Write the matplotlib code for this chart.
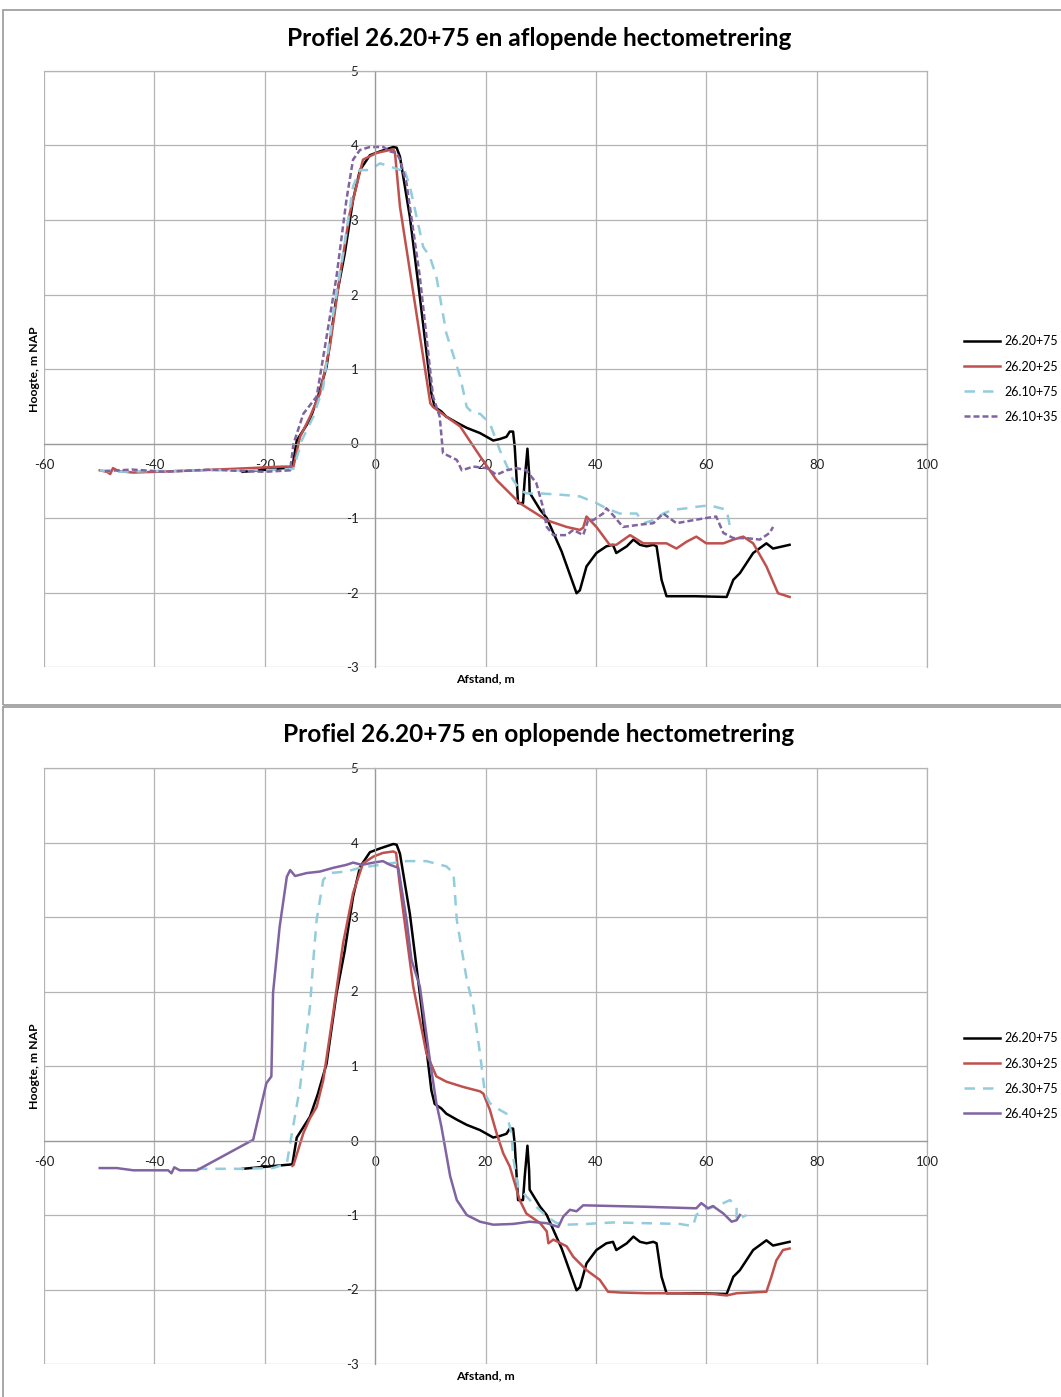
import matplotlib
matplotlib.use('Agg')
import matplotlib.pyplot as plt
from matplotlib.patches import Rectangle

plt.rcParams['font.family'] = ['Lato', 'DejaVu Sans']

# ---------------- data ----------------
xticks = [-60, -40, -20, 0, 20, 40, 60, 80, 100]
yticks = [-3, -2, -1, 0, 1, 2, 3, 4, 5]

title_top = 'Profiel 26.20+75 en aflopende hectometrering'
title_bot = 'Profiel 26.20+75 en oplopende hectometrering'
xlabel = 'Afstand, m'
ylabel = 'Hoogte, m NAP'

# 26.20+75 (both panels)
bk_x = [-24, -15, -14.2, -11.8, -10.4, -8.8, -7.0, -5.5, -4.0, -2.75, -0.94, 0.87, 3.3, 3.9, 4.5, 6.3, 8.1,
        10.2, 10.8, 12.0, 12.9, 14.8, 16.6, 19.0, 21.4, 22.6, 23.8, 24.4, 25.0, 25.3, 25.9, 26.8, 27.1, 27.6,
        27.9, 28.0, 29.9, 31.1, 32.3, 33.8, 36.5, 37.1, 38.3, 40.1, 41.9, 43.1, 43.7, 45.6, 46.8, 48.0, 49.2,
        50.4, 51.0, 51.9, 52.8, 58.0, 63.7, 64.9, 66.1, 68.5, 70.9, 72.1, 75.1]
bk_y = [-0.38, -0.32, 0.04, 0.32, 0.62, 1.03, 1.97, 2.55, 3.27, 3.67, 3.87, 3.92, 3.98, 3.97, 3.85, 3.04, 1.97,
        0.67, 0.49, 0.43, 0.36, 0.28, 0.21, 0.14, 0.04, 0.06, 0.09, 0.16, 0.16, -0.05, -0.80, -0.80, -0.49, -0.07,
        -0.40, -0.66, -0.89, -1.00, -1.20, -1.45, -2.01, -1.97, -1.65, -1.47, -1.38, -1.36, -1.47, -1.38, -1.29,
        -1.36, -1.38, -1.36, -1.38, -1.83, -2.05, -2.05, -2.06, -1.83, -1.74, -1.47, -1.34, -1.41, -1.36]

# 26.20+25
rd_x = [-49.9, -48.6, -48.0, -47.5, -46.5, -43.9, -31.7, -16.7, -14.8, -13.6, -11.8, -10.0, -8.2, -6.4, -4.6,
        -2.2, 0.27, 3.3, 3.6, 4.5, 10.0, 10.5, 12.9, 15.4, 19.0, 22.0, 26.2, 31.1, 34.7, 37.1, 37.7, 38.3, 40.1,
        42.5, 43.7, 46.2, 48.6, 51.0, 52.8, 54.6, 56.4, 58.2, 60.0, 63.1, 64.9, 66.7, 68.5, 70.9, 73.0, 75.1]
rd_y = [-0.36, -0.38, -0.41, -0.33, -0.37, -0.39, -0.36, -0.31, -0.31, 0.09, 0.36, 0.67, 1.30, 2.24, 3.09,
        3.81, 3.90, 3.95, 3.90, 3.18, 0.54, 0.49, 0.36, 0.23, -0.17, -0.49, -0.80, -1.03, -1.12, -1.16, -1.13,
        -0.98, -1.12, -1.36, -1.36, -1.23, -1.34, -1.34, -1.34, -1.41, -1.32, -1.25, -1.34, -1.34, -1.29, -1.25,
        -1.34, -1.65, -2.01, -2.06]

# 26.10+75
cy_x = [-49.9, -47, -40, -30, -20, -14.8, -13.3, -11.2, -9.4, -7.6, -5.8, -4.0, -2.8, -0.96, 0.87, 2.7, 4.5,
        5.1, 6.3, 8.7, 9.9, 11.1, 12.9, 15.4, 16.6, 17.8, 19.0, 20.8, 22.6, 25.0, 26.2, 27.4, 29.9, 34.1, 37.1,
        40.1, 41.9, 44.3, 47.4, 48.6, 50.4, 52.2, 54.0, 56.4, 58.2, 60.6, 63.7, 64.3]
cy_y = [-0.36, -0.38, -0.37, -0.36, -0.36, -0.34, 0.04, 0.36, 0.76, 1.75, 2.55, 3.45, 3.67, 3.67, 3.76, 3.72,
        3.67, 3.72, 3.45, 2.64, 2.51, 2.24, 1.48, 0.90, 0.49, 0.40, 0.40, 0.27, -0.09, -0.49, -0.62, -0.67, -0.67,
        -0.69, -0.71, -0.80, -0.87, -0.94, -0.94, -1.07, -1.03, -0.94, -0.89, -0.87, -0.85, -0.83, -0.89, -1.12]

# 26.10+35
pu_x = [-49, -44, -38, -30, -24, -20, -15.4, -14.8, -13.0, -10.6, -8.8, -7.0, -5.2, -4.0, -2.75, -0.94, 1.5,
        2.7, 3.9, 4.5, 5.7, 8.1, 10.5, 11.7, 12.3, 14.8, 15.7, 17.8, 20.2, 22.0, 23.8, 25.6, 27.4, 29.2, 30.4,
        31.1, 32.3, 34.7, 35.9, 37.7, 38.6, 39.5, 41.3, 41.9, 43.1, 44.9, 47.9, 50.4, 52.2, 54.6, 57.6, 60.0,
        61.8, 63.1, 64.9, 67.3, 69.7, 71.5, 72.1]
pu_y = [-0.37, -0.35, -0.38, -0.35, -0.37, -0.38, -0.36, -0.005, 0.40, 0.63, 1.43, 2.24, 3.27, 3.81, 3.94,
        3.98, 3.98, 3.92, 3.90, 3.81, 3.49, 2.24, 0.63, 0.36, -0.13, -0.22, -0.36, -0.31, -0.33, -0.42, -0.36,
        -0.33, -0.36, -0.53, -0.85, -1.12, -1.23, -1.23, -1.16, -1.23, -1.03, -1.03, -0.94, -0.87, -0.96, -1.12,
        -1.09, -1.07, -0.94, -1.07, -1.03, -1.00, -0.98, -1.20, -1.27, -1.27, -1.29, -1.20, -1.12]

# 26.30+25
r2_x = [-15, -14.8, -13.0, -11.8, -10.6, -9.4, -7.6, -5.8, -4.0, -2.2, -0.34, 1.4, 3.3, 3.8, 4.5, 6.9, 9.3,
        11.1, 12.9, 15.9, 19.0, 19.6, 20.8, 22.0, 23.2, 24.4, 26.2, 27.4, 29.9, 31.1, 31.4, 32.3, 34.7, 35.9,
        38.3, 40.7, 42.2, 44.3, 49.2, 55.2, 61.2, 63.7, 65.5, 70.9, 71.8, 72.7, 73.9, 75.1]
r2_y = [-0.34, -0.33, 0.10, 0.30, 0.45, 0.81, 1.71, 2.65, 3.32, 3.72, 3.81, 3.86, 3.88, 3.86, 3.41, 2.07, 1.17,
        0.86, 0.79, 0.72, 0.66, 0.63, 0.41, 0.10, -0.17, -0.35, -0.80, -0.98, -1.11, -1.22, -1.38, -1.33, -1.42,
        -1.56, -1.74, -1.87, -2.03, -2.04, -2.05, -2.05, -2.06, -2.08, -2.05, -2.03, -1.83, -1.61, -1.47, -1.45]

# 26.30+75
c2_x = [-32.3, -25, -18.5, -16.0, -15.4, -13.6, -11.8, -11.2, -10.6, -9.4, -8.2, -5.2, -2.8, 0.87, 5.7, 9.3,
        12.9, 14.2, 14.8, 16.6, 17.8, 19.0, 19.9, 20.8, 22.6, 23.8, 24.7, 25.0, 25.9, 27.4, 29.2, 31.1, 32.9,
        34.7, 38.3, 43.1, 49.2, 55.2, 57.6, 58.2, 59.4, 60.6, 63.1, 64.3, 65.5, 65.5, 67.3]
c2_y = [-0.38, -0.38, -0.37, -0.31, -0.04, 0.72, 1.80, 2.42, 2.96, 3.50, 3.59, 3.61, 3.66, 3.70, 3.75, 3.75,
        3.68, 3.59, 2.96, 2.16, 1.80, 1.17, 0.63, 0.50, 0.41, 0.36, 0.10, -0.22, -0.62, -0.75, -0.89, -1.02,
        -1.11, -1.13, -1.12, -1.10, -1.11, -1.12, -1.15, -1.00, -0.93, -0.91, -0.84, -0.80, -0.89, -1.07, -1.00]

# 26.40+25
p2_x = [-49.9, -46.8, -43.8, -39.6, -37.5, -36.9, -36.4, -35.4, -32.3, -22.1, -19.7, -18.8, -18.5, -17.3,
        -16.0, -15.4, -14.5, -12.4, -10.0, -7.6, -5.2, -4.0, -2.4, -0.34, 1.4, 2.7, 4.2, 5.7, 6.6, 8.1, 9.9,
        11.1, 12.0, 13.6, 14.8, 16.6, 19.0, 21.4, 25.0, 28.0, 31.1, 33.2, 34.1, 35.3, 36.5, 37.7, 49.2, 58.2,
        59.1, 60.3, 61.2, 63.1, 64.6, 65.5, 66.1]
p2_y = [-0.37, -0.37, -0.40, -0.40, -0.40, -0.44, -0.36, -0.40, -0.40, 0.01, 0.77, 0.86, 1.98, 2.87, 3.54,
        3.63, 3.55, 3.59, 3.61, 3.66, 3.70, 3.73, 3.70, 3.73, 3.75, 3.70, 3.66, 2.96, 2.42, 2.07, 1.09, 0.50,
        0.19, -0.48, -0.80, -1.00, -1.09, -1.13, -1.12, -1.09, -1.11, -1.16, -1.02, -0.93, -0.95, -0.87, -0.89,
        -0.91, -0.84, -0.91, -0.88, -0.98, -1.09, -1.07, -1.00]

labels_top = ['26.20+75', '26.20+25', '26.10+75', '26.10+35']
labels_bot = ['26.20+75', '26.30+25', '26.30+75', '26.40+25']

# ---------------- styling ----------------
C_BLACK = '#000000'
C_RED = '#C0504D'
C_CYAN = '#93CDDD'
C_PURPLE = '#8064A2'
LS_SOLID = '-'
LS_DASH = (0, (4.2, 3.2))
LS_SDASH = (0, (2.4, 1.2))
W, H = 1061, 1397

styles_top = [(C_BLACK, LS_SOLID), (C_RED, LS_SOLID), (C_CYAN, LS_DASH), (C_PURPLE, LS_SDASH)]
styles_bot = [(C_BLACK, LS_SOLID), (C_RED, LS_SOLID), (C_CYAN, LS_DASH), (C_PURPLE, LS_SOLID)]

fig = plt.figure(figsize=(W / 100, H / 100), dpi=100)

# panel frames
fig.patches.append(Rectangle((3 / W, 1 - 705 / H), 1.2, (705 - 10) / H, transform=fig.transFigure,
                             fill=False, ec='#a0a0a0', lw=1.3))
fig.patches.append(Rectangle((3 / W, -0.05), 1.2, (H - 707) / H + 0.05, transform=fig.transFigure,
                             fill=False, ec='#a0a0a0', lw=1.3))


def panel(rect, title, title_y, series, labels, styles):
    ax = fig.add_axes(rect)
    for (x, y), lab, (c, ls) in zip(series, labels, styles):
        ax.plot(x, y, color=c, lw=1.8, linestyle=ls, label=lab, solid_joinstyle='round')
    ax.set_xlim(-60, 100)
    ax.set_ylim(-3, 5)
    ax.set_xticks(xticks)
    ax.set_yticks(yticks)
    ax.set_xticklabels([str(v) for v in xticks])
    ax.set_yticklabels([str(v) for v in yticks])
    ax.grid(True, color='#b4b4b4', lw=0.9)
    ax.set_axisbelow(True)
    for s in ['left', 'bottom']:
        ax.spines[s].set_position(('data', 0))
        ax.spines[s].set_color('#9a9a9a')
        ax.spines[s].set_linewidth(0.9)
    for s in ['top', 'right']:
        ax.spines[s].set_color('#b4b4b4')
        ax.spines[s].set_linewidth(0.9)
    ax.tick_params(axis='both', length=0, labelsize=9.5, colors='#222222')
    ax.tick_params(axis='x', pad=11)
    ax.tick_params(axis='y', pad=12)
    ax.text(0.5, -12 / 596, xlabel, transform=ax.transAxes, ha='center', va='center',
            fontsize=8.8, fontweight='bold')
    ax.text(-9 / 883, 0.5, ylabel, transform=ax.transAxes, ha='center', va='center',
            rotation=90, fontsize=8.8, fontweight='bold')
    fig.text(539 / W, 1 - title_y / H, title, ha='center', va='center', fontsize=17.6, fontweight='bold')
    ax.legend(loc='center left', bbox_to_anchor=(1.035, 0.483), frameon=False, fontsize=9,
              handlelength=2.9, labelspacing=1.05, handletextpad=0.3, borderpad=0)
    return ax


panel([44 / W, 1 - 667 / H, 883 / W, 596 / H], title_top, 38,
      [(bk_x, bk_y), (rd_x, rd_y), (cy_x, cy_y), (pu_x, pu_y)], labels_top, styles_top)
panel([44 / W, 1 - 1364 / H, 883 / W, 596 / H], title_bot, 734,
      [(bk_x, bk_y), (r2_x, r2_y), (c2_x, c2_y), (p2_x, p2_y)], labels_bot, styles_bot)

fig.savefig('out.png', dpi=100)
